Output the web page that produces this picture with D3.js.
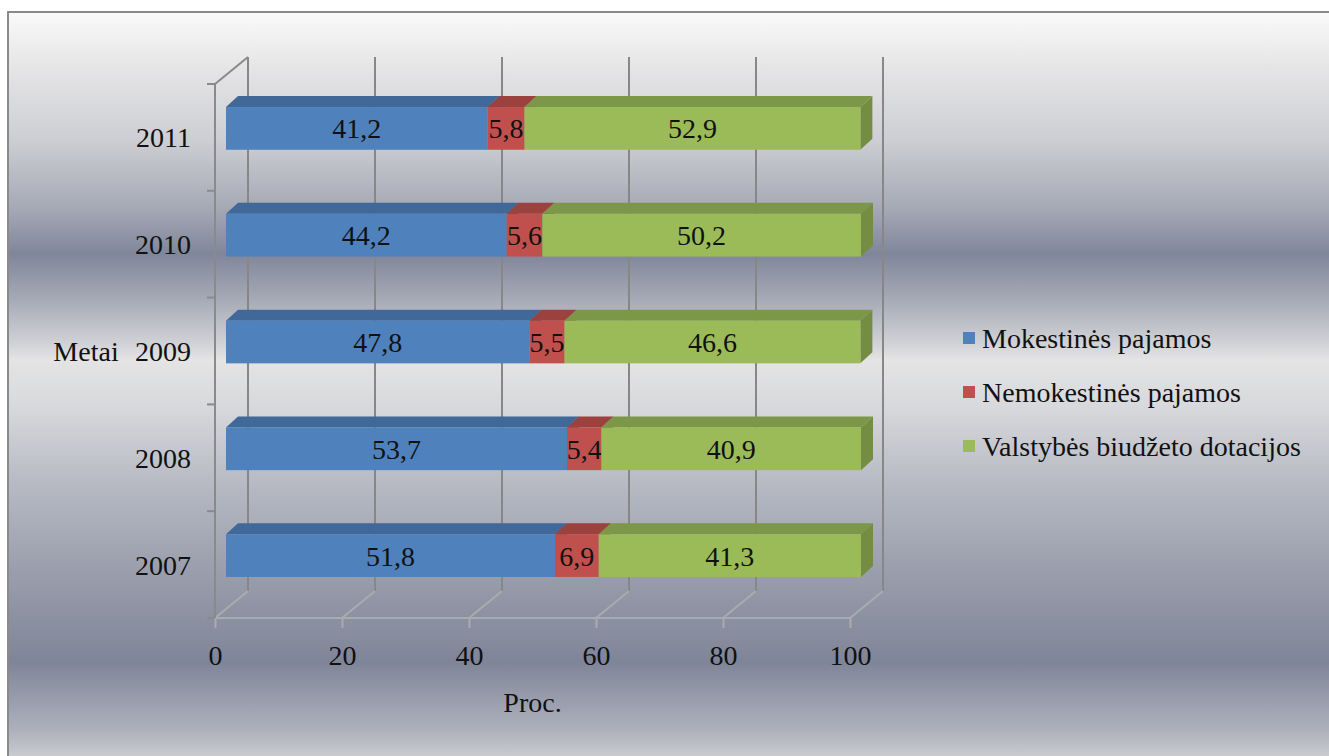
<!DOCTYPE html>
<html>
<head>
<meta charset="utf-8">
<script src="https://cdn.jsdelivr.net/npm/d3@7"></script>
<style>
  html, body { margin: 0; padding: 0; background: #fff; }
  svg text { font-family: "Liberation Serif", "DejaVu Serif", serif; fill: #111; }
</style>
</head>
<body>
<div id="chart"></div>
<script>
// data
var years = ["2007", "2008", "2009", "2010", "2011"];
var seriesNames = ["Mokestinės pajamos", "Nemokestinės pajamos", "Valstybės biudžeto dotacijos"];
var mokestines = [51.8, 53.7, 47.8, 44.2, 41.2];
var nemokestines = [6.9, 5.4, 5.5, 5.6, 5.8];
var dotacijos = [41.3, 40.9, 46.6, 50.2, 52.9];
var xTicks = [0, 20, 40, 60, 80, 100];
var colors = ["#4f81bd", "#c0504d", "#9bbb59"];

var width = 1329, height = 756;
var serif = "Liberation Serif, DejaVu Serif, serif";

var svg = d3.select("#chart").append("svg")
    .attr("width", width)
    .attr("height", height);

// silver background with two dark bands
var grad = svg.append("defs").append("linearGradient")
    .attr("id", "bg").attr("x1", 0).attr("y1", 0).attr("x2", 0).attr("y2", 1);
[[0, "#fafafa"], [0.07, "#e6e6e7"], [0.17, "#cdced3"], [0.26, "#a5a9b5"], [0.32, "#80869a"],
 [0.38, "#a6aab6"], [0.44, "#d2d3d7"], [0.46, "#e4e4e4"], [0.52, "#d8d9dc"], [0.62, "#b8bbc4"],
 [0.74, "#9a9eac"], [0.86, "#7f8598"], [0.95, "#aeb1bc"], [1, "#d6d6d8"]]
    .forEach(function(s) {
        grad.append("stop").attr("offset", s[0]).attr("stop-color", s[1]);
    });

svg.append("rect")
    .attr("x", 8).attr("y", 12)
    .attr("width", width).attr("height", height)
    .attr("fill", "url(#bg)")
    .attr("stroke", "#8a8a8a")
    .attr("stroke-width", 2);

// front plane scales
var x = d3.scaleLinear().domain([0, 100]).range([215, 850]);
var y = d3.scaleBand().domain(years.slice().reverse()).range([84, 618])
    .paddingInner(0.6).paddingOuter(0.3);

var depth = {dx: 33, dy: -27};      // wall depth
var barFront = {dx: 11, dy: -9};    // bar front face offset
var barBack = {dx: 23, dy: -20};    // bar back face offset
var floorY = 618, topY = 84;

var grid = svg.append("g");

// back wall gridlines
grid.selectAll(".wall")
    .data(xTicks).enter().append("line")
    .attr("x1", function(d) { return x(d) + depth.dx; })
    .attr("x2", function(d) { return x(d) + depth.dx; })
    .attr("y1", floorY + depth.dy)
    .attr("y2", topY + depth.dy)
    .attr("stroke", "#878787")
    .attr("stroke-width", 2);

// floor diagonals
grid.selectAll(".floor")
    .data(xTicks).enter().append("line")
    .attr("x1", function(d) { return x(d); })
    .attr("x2", function(d) { return x(d) + depth.dx; })
    .attr("y1", floorY)
    .attr("y2", floorY + depth.dy)
    .attr("stroke", "#a9abb1")
    .attr("stroke-width", 2);

grid.append("line")
    .attr("x1", x(0)).attr("x2", x(100))
    .attr("y1", floorY).attr("y2", floorY)
    .attr("stroke", "#a9abb1").attr("stroke-width", 2);

// left wall edge
grid.append("line")
    .attr("x1", x(0)).attr("x2", x(0))
    .attr("y1", topY).attr("y2", floorY)
    .attr("stroke", "#8a8a8a").attr("stroke-width", 2);
grid.append("line")
    .attr("x1", x(0)).attr("x2", x(0) + depth.dx)
    .attr("y1", topY).attr("y2", topY + depth.dy)
    .attr("stroke", "#8a8a8a").attr("stroke-width", 2);

// ticks between categories
var bounds = d3.range(years.length + 1).map(function(i) { return topY + i * y.step(); });
grid.selectAll(".ytick")
    .data(bounds).enter().append("line")
    .attr("x1", x(0) - 8).attr("x2", x(0))
    .attr("y1", function(d) { return d; })
    .attr("y2", function(d) { return d; })
    .attr("stroke", "#8a8a8a").attr("stroke-width", 2);

// axes (labels)
var xAxis = svg.append("g")
    .attr("transform", "translate(0," + floorY + ")")
    .call(d3.axisBottom(x).tickValues(xTicks).tickSize(10).tickPadding(17))
    .attr("font-family", serif);
xAxis.select(".domain").remove();
xAxis.selectAll(".tick line").attr("stroke", "#a9abb1").attr("stroke-width", 2);
xAxis.selectAll("text").attr("font-size", 28).attr("font-family", serif).attr("fill", "#111");

var yAxis = svg.append("g")
    .attr("transform", "translate(" + x(0) + ",0)")
    .call(d3.axisLeft(y).tickSize(0).tickPadding(24))
    .attr("font-family", serif);
yAxis.select(".domain").remove();
yAxis.selectAll("text").attr("font-size", 28).attr("font-family", serif).attr("fill", "#111")
    .attr("dy", "0.36em");

svg.append("text")
    .attr("x", 86).attr("y", y("2009") + y.bandwidth() / 2)
    .attr("dy", "0.36em")
    .attr("text-anchor", "middle")
    .attr("font-family", serif)
    .attr("font-size", 28)
    .text("Metai");

svg.append("text")
    .attr("x", (x(0) + x(100)) / 2).attr("y", 712)
    .attr("text-anchor", "middle")
    .attr("font-family", serif)
    .attr("font-size", 28)
    .text("Proc.");

// stacked bars
var rows = years.map(function(yr, i) {
    return {year: yr, values: [mokestines[i], nemokestines[i], dotacijos[i]]};
});
var segments = [];
rows.forEach(function(r) {
    var cum = 0;
    r.values.forEach(function(v, k) {
        segments.push({year: r.year, k: k, x0: cum, x1: cum + v, v: v});
        cum += v;
    });
});

var bars = svg.append("g");
var seg = bars.selectAll("g.seg")
    .data(segments).enter().append("g").attr("class", "seg");

seg.append("path")   // top face
    .attr("d", function(d) {
        var a = x(d.x0), b = x(d.x1), t = y(d.year);
        return "M" + (a + barFront.dx) + "," + (t + barFront.dy) +
            "L" + (b + barFront.dx) + "," + (t + barFront.dy) +
            "L" + (b + barBack.dx) + "," + (t + barBack.dy) +
            "L" + (a + barBack.dx) + "," + (t + barBack.dy) + "Z";
    })
    .attr("fill", function(d) { return d3.color(colors[d.k]).darker(0.6); });

seg.append("path")   // right face
    .attr("d", function(d) {
        var b = x(d.x1), t = y(d.year), bt = t + y.bandwidth();
        return "M" + (b + barFront.dx) + "," + (t + barFront.dy) +
            "L" + (b + barBack.dx) + "," + (t + barBack.dy) +
            "L" + (b + barBack.dx) + "," + (bt + barBack.dy) +
            "L" + (b + barFront.dx) + "," + (bt + barFront.dy) + "Z";
    })
    .attr("fill", function(d) { return d3.color(colors[d.k]).darker(0.8); });

seg.append("rect")   // front face
    .attr("x", function(d) { return x(d.x0) + barFront.dx; })
    .attr("y", function(d) { return y(d.year) + barFront.dy; })
    .attr("width", function(d) { return x(d.x1) - x(d.x0); })
    .attr("height", y.bandwidth())
    .attr("fill", function(d) { return colors[d.k]; });

seg.append("text")
    .attr("x", function(d) { return (x(d.x0) + x(d.x1)) / 2 + barFront.dx; })
    .attr("y", function(d) { return y(d.year) + barFront.dy + y.bandwidth() / 2; })
    .attr("dy", "0.36em")
    .attr("text-anchor", "middle")
    .attr("font-family", serif)
    .attr("font-size", 28)
    .text(function(d) { return String(d.v).replace(".", ","); });

// legend
var legend = svg.append("g");
var item = legend.selectAll("g")
    .data(seriesNames).enter().append("g")
    .attr("transform", function(d, i) { return "translate(963," + (338 + i * 54) + ")"; });
item.append("rect")
    .attr("x", 0).attr("y", -6).attr("width", 12).attr("height", 12)
    .attr("fill", function(d, i) { return colors[i]; });
item.append("text")
    .attr("x", 19).attr("dy", "0.34em")
    .attr("font-family", serif)
    .attr("font-size", 28)
    .text(function(d) { return d; });
</script>
</body>
</html>
